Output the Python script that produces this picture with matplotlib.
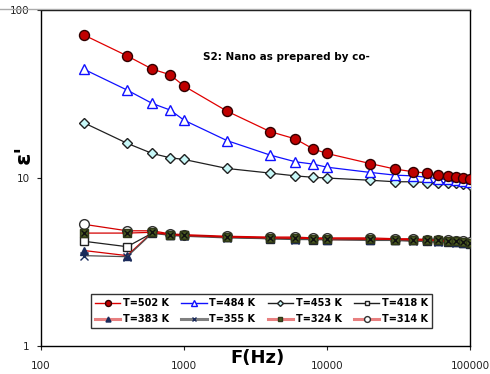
import numpy as np
import matplotlib
matplotlib.use("Agg")
import matplotlib.pyplot as plt
from matplotlib.lines import Line2D

# frequency sweep (Hz)
freq = [200, 400, 600, 800, 1000, 2000, 4000, 6000, 8000, 10000,
        20000, 30000, 40000, 50000, 60000, 70000, 80000, 90000, 100000]

# dielectric constant per temperature
eps_502 = [71, 53.4, 44.5, 41.2, 35.3, 25.0, 18.9, 17.1, 14.9, 14.0,
           12.2, 11.3, 10.9, 10.7, 10.4, 10.3, 10.1, 10.0, 9.8]
eps_484 = [44.4, 33.4, 27.8, 25.4, 22.1, 16.7, 13.7, 12.5, 12.1, 11.6,
           10.8, 10.4, 10.3, 10.1, 9.9, 9.8, 9.7, 9.6, 9.5]
eps_453 = [21.3, 16.1, 14.0, 13.2, 12.9, 11.4, 10.7, 10.3, 10.1, 10.0,
           9.7, 9.5, 9.5, 9.4, 9.4, 9.3, 9.3, 9.2, 9.1]
eps_418 = [4.2, 3.9, 4.7, 4.6, 4.55, 4.45, 4.35, 4.35, 4.3, 4.3,
           4.3, 4.25, 4.25, 4.2, 4.2, 4.15, 4.15, 4.1, 4.05]
eps_383 = [3.7, 3.45, 4.75, 4.6, 4.55, 4.45, 4.4, 4.35, 4.35, 4.3,
           4.3, 4.3, 4.25, 4.25, 4.2, 4.2, 4.15, 4.1, 4.1]
eps_355 = [3.45, 3.4, 4.7, 4.55, 4.5, 4.4, 4.35, 4.3, 4.3, 4.3,
           4.25, 4.25, 4.2, 4.2, 4.15, 4.15, 4.1, 4.1, 4.05]
eps_324 = [4.7, 4.7, 4.75, 4.6, 4.55, 4.45, 4.4, 4.4, 4.35, 4.35,
           4.35, 4.3, 4.3, 4.3, 4.25, 4.2, 4.2, 4.15, 4.1]
eps_314 = [5.3, 4.85, 4.85, 4.65, 4.6, 4.5, 4.45, 4.45, 4.4, 4.4,
           4.4, 4.35, 4.35, 4.3, 4.3, 4.25, 4.2, 4.2, 4.15]

labels = ["T=502 K", "T=484 K", "T=453 K", "T=418 K",
          "T=383 K", "T=355 K", "T=324 K", "T=314 K"]

fig = plt.figure(figsize=(4.9, 3.74), dpi=100)
ax = fig.add_axes([0.0837, 0.075, 0.8755, 0.898])

red = "#d40000"
navy = "#1a2a5a"
olive = "#4a5a20"
# (line colour, marker, face, edge, size, zorder, legend line colour, legend lw)
styles = [
    ("#e00000", "o", "#c00000", "#300000", 7.2, 10, "#e00000", 1.0),
    ("#1010ff", "^", "white", "#1010ff", 7, 9, "#1010ff", 1.0),
    ("#202020", "D", "#c8f8f8", "#202020", 5, 8, "#202020", 1.0),
    ("#202020", "s", "white", "#202020", 6, 4, "#202020", 1.0),
    (red, "^", navy, navy, 6, 5, "#e88080", 2.2),
    ("#505050", "x", navy, navy, 6, 6, "#808080", 2.2),
    (red, "s", olive, "#303818", 6, 7, "#e88080", 2.2),
    (red, "o", "white", "#303030", 7, 3, "#e88080", 2.2),
]
series = [eps_502, eps_484, eps_453, eps_418, eps_383, eps_355, eps_324, eps_314]

handles = []
for vals, lab, st in zip(series, labels, styles):
    lc, mk, fc, ec, ms, z, legc, leglw = st
    ax.plot(freq, vals, color=lc, lw=0.9, marker=mk, mfc=fc, mec=ec, ms=ms,
            zorder=z)
    handles.append(Line2D([], [], color=legc, lw=leglw, marker=mk, mfc=fc,
                          mec=ec, ms=ms * 0.6, label=lab))

# black cross over the olive squares of the 324 K series
ax.plot(freq, eps_324, ls="none", marker="x", color="#101010", ms=5, mew=1,
        zorder=7.5)

ax.set_xscale("log")
ax.set_yscale("log")
ax.set_xlim(100, 100000)
ax.set_ylim(1, 100)
ax.xaxis.set_minor_locator(matplotlib.ticker.NullLocator())
ax.yaxis.set_minor_locator(matplotlib.ticker.NullLocator())
ax.set_xticks([100, 1000, 10000, 100000])
ax.set_xticklabels(["100", "1000", "10000", "100000"])
ax.set_yticks([1, 10, 100])
ax.set_yticklabels(["1", "10", "100"])
ax.tick_params(labelsize=7.5, length=3, width=0.8, colors="#222222")
ax.tick_params(axis="x", pad=8)
ax.tick_params(axis="y", pad=5)
for s in ax.spines.values():
    s.set_linewidth(1.0)

ax.text(0.505, -0.035, "F(Hz)", transform=ax.transAxes, ha="center",
        va="center", fontsize=13, fontweight="bold")
ax.text(-0.04, 0.57, "ε'", transform=ax.transAxes, ha="center", va="center",
        rotation=90, fontsize=16, fontweight="bold")

ax.text(0.377, 0.85, "S2: Nano as prepared by co-", transform=ax.transAxes,
        fontsize=7.5, fontweight="bold")

# legend is filled column by column, so interleave the two rows
order = [0, 4, 1, 5, 2, 6, 3, 7]
leg = ax.legend([handles[i] for i in order], [labels[i] for i in order],
                loc="lower left", bbox_to_anchor=(0.1166, 0.0536, 0.795, 0.098),
                mode="expand", ncol=4, prop={"weight": "bold", "size": 7},
                handlelength=2.6, handletextpad=0.3, borderaxespad=0,
                borderpad=0.4, labelspacing=0.6, columnspacing=0.8,
                frameon=True, fancybox=False, edgecolor="black")
leg.get_frame().set_linewidth(1.0)
leg.set_zorder(20)

# thin grey border along the top of the chart area
fig.add_artist(Line2D([0, 0.959], [0.976, 0.976], color="#aaaaaa", lw=1,
                      transform=fig.transFigure))

fig.savefig("out.png", dpi=100)
